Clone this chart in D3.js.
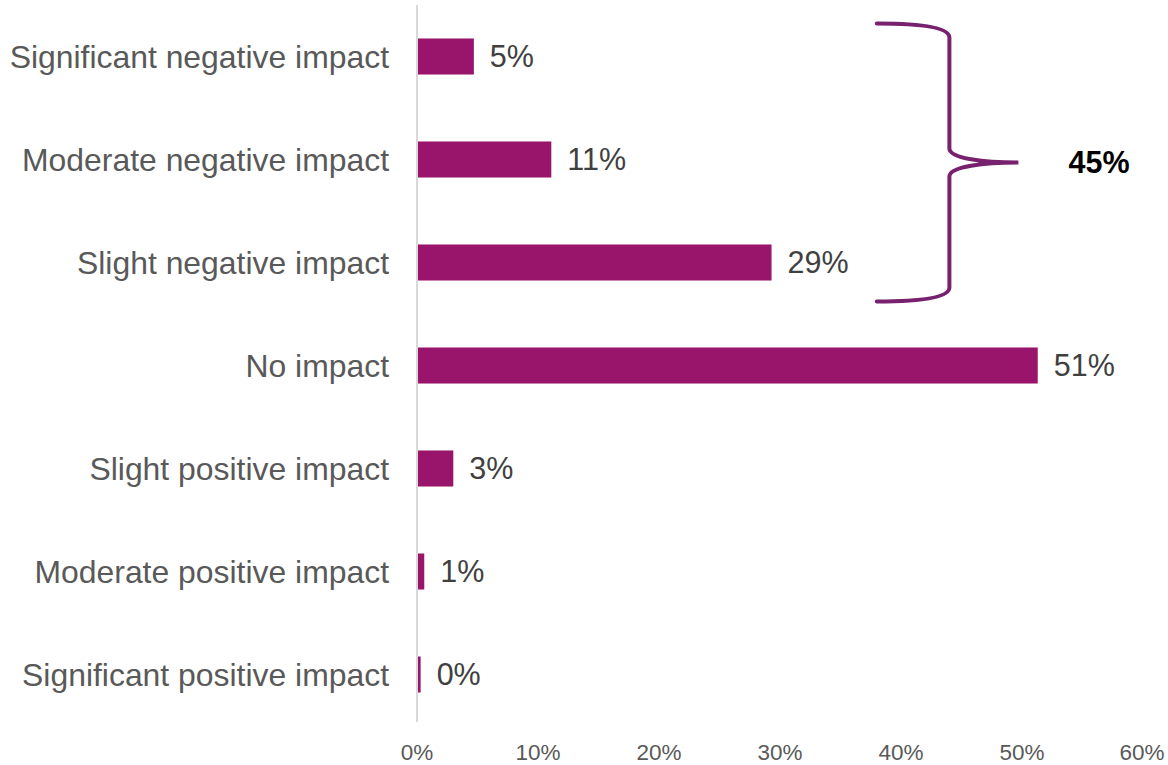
<!DOCTYPE html>
<html>
<head>
<meta charset="utf-8">
<script src="https://cdn.jsdelivr.net/npm/d3@7"></script>
<style>
  html, body { margin: 0; padding: 0; background: #fff; }
  svg { display: block; font-family: "Liberation Sans", Arial, sans-serif; }
</style>
</head>
<body>
<svg id="chart" width="1168" height="765"></svg>
<script>
const categories = [
  "Significant negative impact",
  "Moderate negative impact",
  "Slight negative impact",
  "No impact",
  "Slight positive impact",
  "Moderate positive impact",
  "Significant positive impact"
];
const values = [4.7, 11.1, 29.3, 51.3, 3.0, 0.6, 0.3];
const tickValues = [0, 10, 20, 30, 40, 50, 60];
const bracketCategories = ["Significant negative impact", "Moderate negative impact", "Slight negative impact"];

(function () {
const svg = d3.select("#chart");

const x = d3.scaleLinear().domain([0, 60]).range([417, 1143]);
const y = d3.scaleBand().domain(categories).range([5, 726]).paddingInner(0.65).paddingOuter(0.325);

const barColor = "#99156B";

// bars
svg.append("g").selectAll("rect").data(categories).join("rect")
  .attr("x", x(0))
  .attr("y", d => y(d))
  .attr("width", (d, i) => x(values[i]) - x(0))
  .attr("height", y.bandwidth())
  .attr("fill", barColor);

// vertical axis line
svg.append("line")
  .attr("x1", x(0)).attr("x2", x(0))
  .attr("y1", 5).attr("y2", 722)
  .attr("stroke", "#D9D9D9").attr("stroke-width", 2);

// category labels
svg.append("g").selectAll("text").data(categories).join("text")
  .attr("x", 389)
  .attr("y", d => y(d) + y.bandwidth() / 2)
  .attr("dy", "0.35em")
  .attr("text-anchor", "end")
  .attr("fill", "#595959")
  .attr("font-size", 31.9)
  .text(d => d);

// value labels
svg.append("g").selectAll("text").data(categories).join("text")
  .attr("x", (d, i) => x(values[i]) + 16)
  .attr("y", d => y(d) + y.bandwidth() / 2)
  .attr("dy", "0.35em")
  .attr("fill", "#404040")
  .attr("font-size", 30.5)
  .text((d, i) => Math.round(values[i]) + "%");

// x tick labels
svg.append("g").selectAll("text").data(tickValues).join("text")
  .attr("x", d => d === 60 ? x(d) - 1 : x(d))
  .attr("y", 760)
  .attr("text-anchor", "middle")
  .attr("fill", "#595959")
  .attr("font-size", 22.5)
  .text(d => d + "%");

// bracket
const yTop = y(bracketCategories[0]) - 15;
const yBot = y(bracketCategories[bracketCategories.length - 1]) + y.bandwidth() + 21;
const yMid = (yTop + yBot) / 2;
const xs = x(38), xv = x(44), xt = x(49.7);
const p = d3.path();
p.moveTo(xs, yTop);
p.bezierCurveTo(xs + 45, yTop, xv, yTop + 4, xv, yTop + 14);
p.lineTo(xv, yMid - 14);
p.bezierCurveTo(xv, yMid - 4, xv + 35, yMid, xt, yMid);
p.bezierCurveTo(xv + 35, yMid, xv, yMid + 4, xv, yMid + 14);
p.lineTo(xv, yBot - 14);
p.bezierCurveTo(xv, yBot - 4, xs + 45, yBot, xs, yBot);
svg.append("path")
  .attr("d", p.toString())
  .attr("fill", "none")
  .attr("stroke", "#77216F")
  .attr("stroke-width", 4)
  .attr("stroke-linecap", "round");

const total = bracketCategories.reduce((s, c) => s + values[categories.indexOf(c)], 0);
svg.append("text")
  .attr("x", 1099)
  .attr("y", yMid)
  .attr("dy", "0.35em")
  .attr("text-anchor", "middle")
  .attr("font-weight", "bold")
  .attr("fill", "#000")
  .attr("font-size", 30.5)
  .text(Math.round(total) + "%");
})();
</script>
</body>
</html>
